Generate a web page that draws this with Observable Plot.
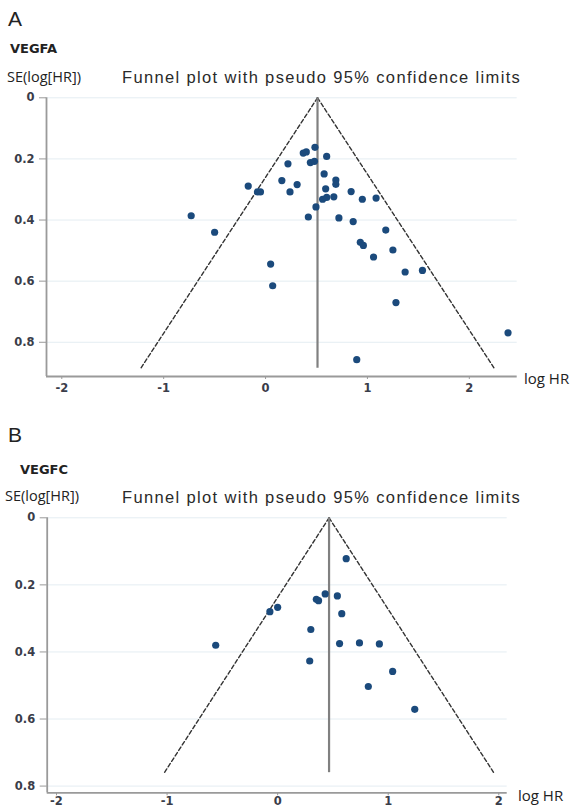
<!DOCTYPE html>
<html><head><meta charset="utf-8">
<script src="https://cdn.jsdelivr.net/npm/d3@7"></script>
<script src="https://cdn.jsdelivr.net/npm/@observablehq/plot@0.6"></script>
<style>
body{margin:0;background:#fff;width:570px;height:808px;overflow:hidden;position:relative;font-family:"Liberation Sans",Arial,sans-serif;color:#222}
.t{position:absolute;white-space:nowrap;line-height:1}
.ttl{font-size:16.5px;letter-spacing:1.35px;font-family:'Liberation Sans';color:#2a2a2a}
svg{overflow:visible}
#a,#b{position:absolute;left:0}
</style></head><body>
<div id="a" style="top:0"></div>
<div id="b" style="top:400px"></div>
<div class="t" style="left:8px;top:8px;font-size:21px">A</div>
<div class="t" style="left:10px;top:42px;font-size:13px;font-weight:bold;font-family:'DejaVu Sans'">VEGFA</div>
<div class="t" style="left:7px;top:70px;font-size:14.5px;font-family:'Open Sans'">SE(log[HR])</div>
<div class="t ttl" style="left:122px;top:69px">Funnel plot with pseudo 95% confidence limits</div>
<div class="t" style="left:524px;top:371px;font-size:15px;font-family:'Open Sans'">log HR</div>
<div class="t" style="left:8px;top:424px;font-size:21px">B</div>
<div class="t" style="left:20px;top:463px;font-size:13px;font-weight:bold;font-family:'DejaVu Sans'">VEGFC</div>
<div class="t" style="left:5px;top:489px;font-size:14.5px;font-family:'Open Sans'">SE(log[HR])</div>
<div class="t ttl" style="left:122px;top:489px">Funnel plot with pseudo 95% confidence limits</div>
<div class="t" style="left:518px;top:788px;font-size:15px;font-family:'Open Sans'">log HR</div>
<script>
// VEGFA study estimates
const vegfaLogHR = [-0.73,-0.50,-0.17,-0.08,-0.05,0.05,0.07,0.16,0.22,0.24,0.31,0.37,0.40,0.485,0.44,0.48,0.60,0.575,0.69,0.69,0.59,0.56,0.60,0.67,0.495,0.42,0.72,0.84,0.95,1.085,0.86,1.18,0.93,0.96,1.25,1.06,1.37,1.54,1.28,0.895,2.38];
const vegfaSE    = [0.386,0.44,0.289,0.308,0.308,0.544,0.615,0.271,0.216,0.308,0.284,0.181,0.177,0.162,0.212,0.208,0.192,0.249,0.269,0.283,0.298,0.332,0.326,0.324,0.357,0.39,0.393,0.307,0.332,0.328,0.405,0.433,0.473,0.483,0.498,0.521,0.57,0.565,0.67,0.857,0.769];
// VEGFC study estimates
const vegfcLogHR = [0.62,0.43,0.54,0.35,0.37,0.58,0.00,-0.07,0.30,-0.56,0.56,0.74,0.92,0.29,1.04,0.82,1.24];
const vegfcSE    = [0.122,0.227,0.233,0.243,0.247,0.286,0.267,0.28,0.333,0.38,0.375,0.373,0.376,0.427,0.458,0.503,0.571];
// pooled estimate and funnel extent
const pooledA = 0.51, seMaxA = 0.885;
const pooledB = 0.465, seMaxB = 0.76;
const xTicks = [-2,-1,0,1,2];
const yTicks = [0,0.2,0.4,0.6,0.8];

function funnel(el, {logHR, se, pooled, seMax, xDomain, yMax, height, marginTop, marginBottom, marginLeft, marginRight, xTickPadding}) {
  const pts = logHR.map((x, i) => ({x, y: se[i]}));
  const left = [{x: pooled, y: 0}, {x: pooled - 1.96 * seMax, y: seMax}];
  const right = [{x: pooled, y: 0}, {x: pooled + 1.96 * seMax, y: seMax}];
  const p = Plot.plot({
    width: 570, height, marginTop, marginBottom, marginLeft, marginRight,
    x: {domain: xDomain, label: null},
    y: {domain: [0, yMax], reverse: true, label: null},
    style: {fontFamily: "DejaVu Sans", fontSize: "11.5px", fontWeight: "bold", color: "#3a3d4a", background: "transparent"},
    marks: [
      Plot.ruleY(yTicks, {stroke: "#e4edf2", strokeWidth: 1}),
      Plot.line(left, {x: "x", y: "y", stroke: "#333", strokeWidth: 1.4, strokeDasharray: "4,2.5"}),
      Plot.line(right, {x: "x", y: "y", stroke: "#333", strokeWidth: 1.4, strokeDasharray: "4,2.5"}),
      Plot.ruleX([pooled], {y1: 0, y2: seMax, stroke: "#808080", strokeWidth: 2.2}),
      Plot.dot(pts, {x: "x", y: "y", r: 3.6, fill: "#1b4a7c", stroke: "none"}),
      Plot.axisX({ticks: xTicks, tickFormat: d => String(d), tickSize: 3, tickPadding: xTickPadding, stroke: "#999"}),
      Plot.axisY({ticks: yTicks, tickFormat: d => String(d), tickSize: 7, tickPadding: 5, stroke: "#999"}),
      Plot.ruleY([yMax], {stroke: "#9a9a9a", strokeWidth: 1.8}),
      Plot.ruleX([xDomain[0]], {stroke: "#9a9a9a", strokeWidth: 1.8})
    ]
  });
  document.getElementById(el).appendChild(p);
}

funnel("a", {logHR: vegfaLogHR, se: vegfaSE, pooled: pooledA, seMax: seMaxA, xTickPadding: 4,
  xDomain: [-2.15, 2.47], yMax: 0.912, height: 400, marginTop: 97.3, marginBottom: 24, marginLeft: 46, marginRight: 53.3});
funnel("b", {logHR: vegfcLogHR, se: vegfcSE, pooled: pooledB, seMax: seMaxB, xTickPadding: 1,
  xDomain: [-2.084, 2.076], yMax: 0.82, height: 408, marginTop: 117.3, marginBottom: 15.7, marginLeft: 46.7, marginRight: 63.3});
</script>
</body></html>
